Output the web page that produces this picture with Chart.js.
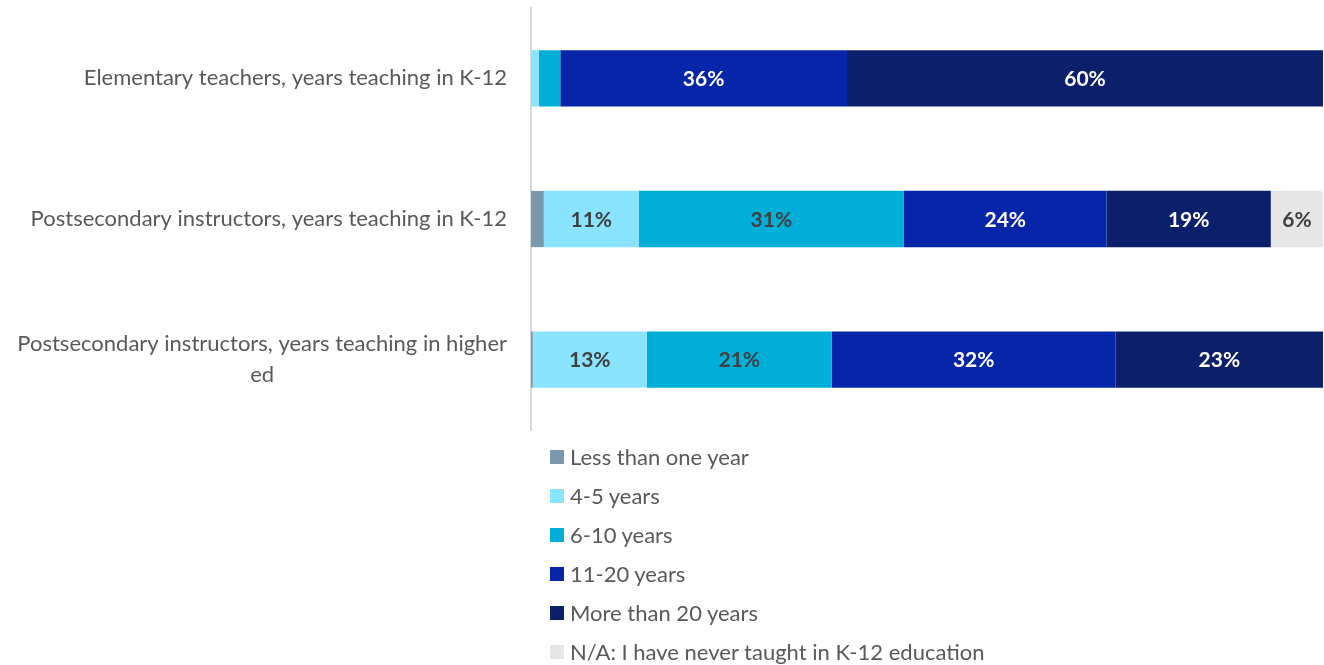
<!DOCTYPE html>
<html>
<head>
<meta charset="utf-8">
<script src="https://cdn.jsdelivr.net/npm/chart.js@4"></script>
<style>
  html, body { margin: 0; padding: 0; background: #fff; }
  #wrap { position: relative; width: 1324px; height: 665px; }
  #legend { position: absolute; left: 550px; top: 437px; font-family: Lato, sans-serif; font-size: 22px; color: #595959; }
  #legend div { height: 39px; display: flex; align-items: center; margin-top: 0; }
  #legend span.box { display: inline-block; width: 14px; height: 14px; margin-right: 6px; }
</style>
</head>
<body>
<div id="wrap">
  <canvas id="bar-chart" width="1324" height="665"></canvas>
  <div id="legend"></div>
</div>
<script>
const categories = [
  ['Elementary teachers, years teaching in K-12'],
  ['Postsecondary instructors, years teaching in K-12'],
  ['Postsecondary instructors, years teaching in higher', 'ed']
];
const seriesNames = ['Less than one year', '4-5 years', '6-10 years', '11-20 years', 'More than 20 years', 'N/A: I have never taught in K-12 education'];
const lessThanOne = [0, 1.5, 0.2];
const years4to5 = [1.0, 11.1, 12.8];
const years6to10 = [2.7, 31.0, 20.8];
const years11to20 = [36.2, 23.7, 31.9];
const moreThan20 = [60.1, 19.2, 23.3];
const neverTaught = [0, 6.1, 0];

const colors = ['#7a97ab', '#8ae4ff', '#00afd8', '#0625a8', '#0b1f6b', '#e6e6e6'];
const labelColors = ['#404040', '#404040', '#404040', '#ffffff', '#ffffff', '#404040'];

const series = [lessThanOne, years4to5, years6to10, years11to20, moreThan20, neverTaught];
// row totals, Excel-style 100% stacked bars
const totals = categories.map((c, i) => series.reduce((s, arr) => s + arr[i], 0));

const valueLabels = {
  id: 'valueLabels',
  afterDatasetsDraw(chart) {
    const ctx = chart.ctx;
    ctx.save();
    ctx.font = 'bold 21px Lato, sans-serif';
    ctx.textAlign = 'center';
    ctx.textBaseline = 'middle';
    chart.data.datasets.forEach((ds, di) => {
      chart.getDatasetMeta(di).data.forEach((bar, i) => {
        const v = ds.raw[i];
        if (v < 5) return;
        ctx.fillStyle = labelColors[di];
        ctx.fillText(Math.round(v) + '%', (bar.x + bar.base) / 2, bar.y + 1);
      });
    });
    ctx.restore();
  }
};

const categoryLabels = {
  id: 'categoryLabels',
  afterDraw(chart) {
    const ctx = chart.ctx;
    const y = chart.scales.y;
    const right = 507, lineH = 31;
    ctx.save();
    ctx.font = '22px Lato, sans-serif';
    ctx.fillStyle = '#595959';
    ctx.textAlign = 'center';
    ctx.textBaseline = 'middle';
    categories.forEach((lines, i) => {
      const w = Math.max(...lines.map(l => ctx.measureText(l).width));
      const cx = right - w / 2;
      const cy = y.getPixelForValue(i);
      lines.forEach((l, k) => {
        ctx.fillText(l, cx, cy + (k - (lines.length - 1) / 2) * lineH);
      });
    });
    ctx.restore();
  }
};

const chart = new Chart(document.getElementById('bar-chart'), {
  type: 'bar',
  data: {
    labels: categories.map(c => c.join(' ')),
    datasets: series.map((arr, di) => ({
      label: seriesNames[di],
      raw: arr,
      data: arr.map((v, i) => v / totals[i] * 100),
      backgroundColor: colors[di],
      borderWidth: 0,
      barPercentage: 0.4,
      categoryPercentage: 1
    }))
  },
  options: {
    indexAxis: 'y',
    responsive: false,
    animation: false,
    layout: { padding: { top: 8, right: 1, bottom: 235, left: 0 } },
    scales: {
      x: { stacked: true, min: 0, max: 100, display: false },
      y: {
        stacked: true,
        grid: { display: false, drawTicks: false },
        border: { display: true, color: '#d9d9d9', width: 2 },
        ticks: { display: false },
        afterFit(scale) { scale.width = 531; }
      }
    },
    plugins: {
      legend: { display: false },
      tooltip: { enabled: false }
    }
  },
  plugins: [valueLabels, categoryLabels]
});

const legend = document.getElementById('legend');
chart.data.datasets.forEach(ds => {
  const item = document.createElement('div');
  item.innerHTML = '<span class="box" style="background:' + ds.backgroundColor + '"></span>' + ds.label;
  legend.appendChild(item);
});
</script>
</body>
</html>
